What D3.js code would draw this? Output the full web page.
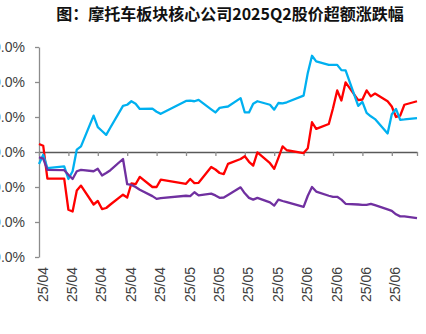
<!DOCTYPE html>
<html><head><meta charset="utf-8">
<script src="https://cdn.jsdelivr.net/npm/d3@7/dist/d3.min.js"></script>
<style>
html,body{margin:0;padding:0;background:#fff;overflow:hidden;}
svg{display:block;}
</style></head>
<body>
<svg id="c" width="426" height="334"></svg>
<script>
const title = "图：摩托车板块核心公司2025Q2股价超额涨跌幅";
const dates = ["2025-04-01","2025-04-02","2025-04-03","2025-04-07","2025-04-08","2025-04-09","2025-04-10","2025-04-11",
"2025-04-14","2025-04-15","2025-04-16","2025-04-17","2025-04-18","2025-04-21","2025-04-22","2025-04-23","2025-04-24","2025-04-25",
"2025-04-28","2025-04-29","2025-04-30","2025-05-06","2025-05-07","2025-05-08","2025-05-09","2025-05-12","2025-05-13","2025-05-14",
"2025-05-15","2025-05-16","2025-05-19","2025-05-20","2025-05-21","2025-05-22","2025-05-23","2025-05-26","2025-05-27","2025-05-28",
"2025-05-29","2025-05-30","2025-06-03","2025-06-04","2025-06-05","2025-06-06","2025-06-09","2025-06-10","2025-06-11","2025-06-12",
"2025-06-13","2025-06-16","2025-06-17","2025-06-18","2025-06-19","2025-06-20","2025-06-23","2025-06-24","2025-06-25","2025-06-26",
"2025-06-27","2025-06-30"];
const seriesNames = ["春风动力","隆鑫通用","钱江摩托"];
const redValues = [2.3,1.8,-7.6,-7.6,-16.5,-17.0,-11.0,-9.6,
-15.0,-14.0,-16.3,-16.0,-15.0,-12.2,-13.0,-9.0,-9.2,-7.1,
-10.0,-10.0,-7.9,-9.1,-7.7,-8.9,-8.8,-4.3,-5.0,-6.0,
-6.3,-3.4,-2.0,-1.2,-2.8,-3.9,-0.1,-3.2,-4.8,-1.7,
1.6,0.5,-0.3,1.1,8.5,6.6,8.0,12.5,17.6,14.7,
19.9,14.8,15.0,17.6,15.9,16.7,14.5,13.0,10.0,10.4,
13.5,14.5];
const blueValues = [-3.4,-0.8,-4.6,-4.1,-7.7,-5.5,0.7,1.6,
10.4,7.1,6.0,4.9,7.0,13.2,13.5,14.5,13.8,12.3,
12.4,11.5,10.9,14.6,14.7,14.5,14.9,12.2,11.3,12.6,
12.8,13.0,15.4,11.3,11.3,13.8,14.5,13.5,12.1,14.0,
13.9,14.2,16.1,22.6,27.5,25.9,24.9,24.9,24.9,23.4,
23.3,13.2,14.3,11.2,10.2,9.4,5.3,10.8,12.3,9.2,
9.3,9.7];
const purpleValues = [-1.5,-1.9,-5.1,-5.2,-6.5,-7.7,-5.5,-5.1,
-5.5,-4.8,-6.7,-6.0,-5.2,-2.0,-9.2,-9.4,-10.0,-10.8,
-12.6,-13.4,-13.2,-12.5,-12.6,-11.5,-12.4,-11.9,-12.4,-13.1,
-13.0,-12.3,-10.1,-11.8,-13.1,-13.6,-13.1,-14.4,-15.3,-13.6,
-14.0,-14.3,-15.7,-12.5,-10.0,-11.3,-12.5,-12.8,-12.8,-13.6,
-14.8,-15.0,-15.1,-15.1,-14.8,-15.2,-16.4,-16.8,-17.8,-18.4,
-18.4,-18.9];
const yTicks = [-30,-20,-10,0,10,20,30];
const xTickDates = ["2025-04-01","2025-04-08","2025-04-15","2025-04-22","2025-04-29","2025-05-06","2025-05-13",
"2025-05-20","2025-05-27","2025-06-03","2025-06-10","2025-06-17","2025-06-24"];
const xDomainEnd = "2025-06-30";
const colors = ["#FF0000","#00B0F0","#7030A0"];

const parse = d3.utcParse("%Y-%m-%d");
const fmt = d3.utcFormat("%y/%m");
const svg = d3.select("#c");
const x = d3.scaleUtc().domain([parse(dates[0]), parse(xDomainEnd)]).range([39, 417]);
const y = d3.scaleLinear().domain([-30, 30]).range([257, 47]);

svg.append("text").attr("x", 230).attr("y", 20).attr("text-anchor","middle")
  .attr("font-family","'Noto Sans CJK SC', sans-serif").attr("font-weight","bold")
  .attr("font-size", 16).attr("fill","#111").text(title);

// y axis
const yAxis = svg.append("g").attr("transform","translate(39,0)")
  .call(d3.axisLeft(y).tickValues(yTicks).tickSize(4).tickPadding(10).tickSizeOuter(0)
    .tickFormat(d => d.toFixed(1) + "%"));
yAxis.select(".domain").attr("stroke","#8c8c8c").attr("stroke-width",1.3);
yAxis.selectAll(".tick line").attr("stroke","#8c8c8c").attr("stroke-width",1.3);
yAxis.selectAll(".tick text").attr("font-family","'Liberation Sans Narrow','Liberation Sans',sans-serif")
  .attr("font-size",14).attr("fill","#404040");

// x axis on zero line
const tickDates = xTickDates.map(parse).concat([parse(xDomainEnd)]);
const xAxis = svg.append("g").attr("transform",`translate(0,${y(0)})`)
  .call(d3.axisBottom(x).tickValues(tickDates).tickSize(4).tickSizeOuter(0).tickFormat(""));
xAxis.select(".domain").attr("stroke","#595959").attr("stroke-width",1.3);
xAxis.selectAll(".tick line").attr("stroke","#8c8c8c").attr("stroke-width",1.3);

// x tick labels at bottom, rotated
svg.append("g").selectAll("text").data(xTickDates.map(parse)).join("text")
  .attr("transform", d => `translate(${x(d)+8.5},267) rotate(-90)`)
  .attr("text-anchor","end")
  .attr("font-family","'Liberation Sans',sans-serif").attr("font-size",14).attr("fill","#404040")
  .text(d => fmt(d));

// lines
const allSeries = [redValues, blueValues, purpleValues];
const line = d3.line().x((d,i) => x(parse(dates[i]))).y(d => y(d));
allSeries.forEach((vals, k) => {
  svg.append("path").datum(vals).attr("d", line).attr("fill","none")
    .attr("stroke", colors[k]).attr("stroke-width", 2.3).attr("stroke-linejoin","round");
});

// legend (mostly below visible area)
const legX = [50, 165, 277];
seriesNames.forEach((n, k) => {
  svg.append("line").attr("x1", legX[k]).attr("x2", legX[k]+22).attr("y1", 340).attr("y2", 340)
    .attr("stroke", colors[k]).attr("stroke-width", 2.3);
  svg.append("text").attr("x", legX[k]+26).attr("y", 345)
    .attr("font-family","'Noto Sans CJK SC', sans-serif").attr("font-size", 13).attr("fill","#404040").text(n);
});
</script>
</body></html>
